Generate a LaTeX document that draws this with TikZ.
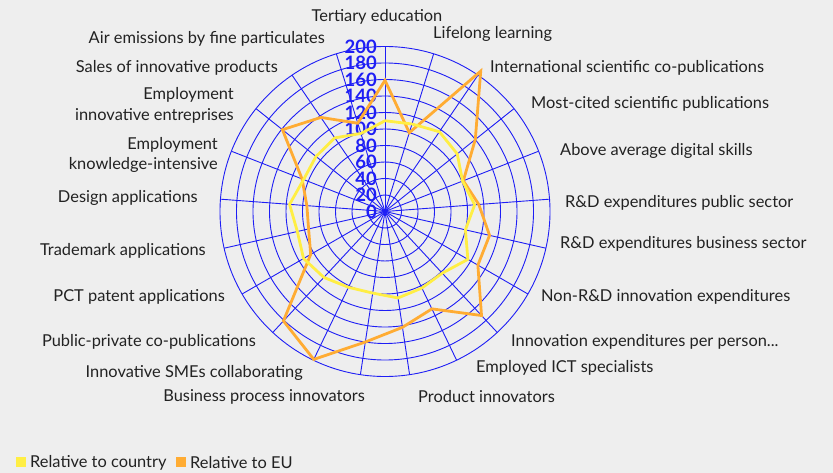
\documentclass[tikz,border=0pt]{standalone}
\usepackage{fontspec}
\setmainfont{Lato}
\definecolor{bg}{RGB}{238,238,238}
\definecolor{gridblue}{RGB}{30,30,245}
\definecolor{ctry}{RGB}{255,238,68}
\definecolor{eu}{RGB}{255,172,51}
\definecolor{txt}{RGB}{34,34,34}
\begin{document}
\begin{tikzpicture}[x=1pt,y=-1pt,
  gridline/.style={gridblue, line width=0.9pt},
  lbl/.style={text=txt, font=\fontsize{16.4}{20.5}\selectfont, inner sep=0pt},
  tick/.style={text=gridblue, font=\bfseries\fontsize{18.5}{18}\selectfont, inner sep=0pt, anchor=east},
  series/.style={line width=2.8pt, line join=miter},
  legbox/.style={inner sep=0pt, minimum size=10pt},
]
\fill[bg] (0,0) rectangle (833,473);
\useasboundingbox (0,0) rectangle (833,473);
\coordinate (c) at (385,211.5);
% rings
\foreach \i in {1,...,10} \draw[gridline] (c) circle[radius=16.5pt*\i];
% spokes
\foreach \k in {0,...,20} {
  \pgfmathsetmacro\ang{\k*360/21}
  \coordinate (s\k) at ({385+165*sin(\ang)},{211.5-165*cos(\ang)});
  \draw[gridline] (c) -- (s\k);
}
% tick labels
\foreach \v in {0,20,...,200} \node[tick] (t\v) at (377,{211.5-0.825*\v}) {\v};
% data
\foreach \k/\v in {0/159,1/100,2/206,3/140,4/102,5/114,6/130,7/130,8/172,9/131,10/142,11/160,12/199,13/181,14/104,15/95,16/95,17/108,18/159,19/138,20/112} {
  \pgfmathsetmacro\ang{\k*360/21}
  \coordinate (o\k) at ({385+0.825*\v*sin(\ang)},{211.5-0.825*\v*cos(\ang)});
}
\foreach \k/\v in {0/110,1/111,2/117,3/112,4/101,5/109,6/100,7/116,8/102,9/103,10/106,11/100,12/102,13/109,14/114,15/109,16/116,17/106,18/107,19/108,20/99} {
  \pgfmathsetmacro\ang{\k*360/21}
  \coordinate (y\k) at ({385+0.825*\v*sin(\ang)},{211.5-0.825*\v*cos(\ang)});
}
\draw[series, eu] (o0) \foreach \k in {1,...,20} {-- (o\k)} -- cycle;
\draw[series, ctry] (y0) \foreach \k in {1,...,20} {-- (y\k)} -- cycle;
% axis labels
\node[lbl, anchor=center] (l0) at (377,17) {Tertiary education};
\node[lbl, anchor=west] (l1) at (433,34) {Lifelong learning};
\node[lbl, anchor=west] (l2) at (490,68) {International scientific co-publications};
\node[lbl, anchor=west] (l3) at (531,104) {Most-cited scientific publications};
\node[lbl, anchor=west] (l4) at (560,151) {Above average digital skills};
\node[lbl, anchor=west] (l5) at (565,203) {R\&D expenditures public sector};
\node[lbl, anchor=west] (l6) at (560,244) {R\&D expenditures business sector};
\node[lbl, anchor=west] (l7) at (541,297) {Non-R\&D innovation expenditures};
\node[lbl, anchor=west] (l8) at (511,342) {Innovation expenditures per person...};
\node[lbl, anchor=west] (l9) at (476,368) {Employed ICT specialists};
\node[lbl, anchor=west] (l10) at (418,397) {Product innovators};
\node[lbl, anchor=east] (l11) at (365,397) {Business process innovators};
\node[lbl, anchor=east] (l12) at (303,373) {Innovative SMEs collaborating};
\node[lbl, anchor=east] (l13) at (256,342) {Public-private co-publications};
\node[lbl, anchor=east] (l14) at (225,297) {PCT patent applications};
\node[lbl, anchor=east] (l15) at (206,251) {Trademark applications};
\node[lbl, anchor=east] (l16) at (198,198) {Design applications};
\node[lbl, anchor=east, align=right] (l17) at (218,155) {Employment\\knowledge-intensive};
\node[lbl, anchor=east, align=right] (l18) at (234,105.5) {Employment\\innovative entreprises};
\node[lbl, anchor=east] (l19) at (278,68) {Sales of innovative products};
\node[lbl, anchor=east] (l20) at (325,39) {Air emissions by fine particulates};
% legend
\node[legbox, fill=ctry] (lg1) at (21,462) {};
\node[lbl, anchor=west] (lt1) at (30,463) {Relative to country};
\node[legbox, fill=eu] (lg2) at (181,462) {};
\node[lbl, anchor=west] (lt2) at (190,463) {Relative to EU};
\end{tikzpicture}
\end{document}
